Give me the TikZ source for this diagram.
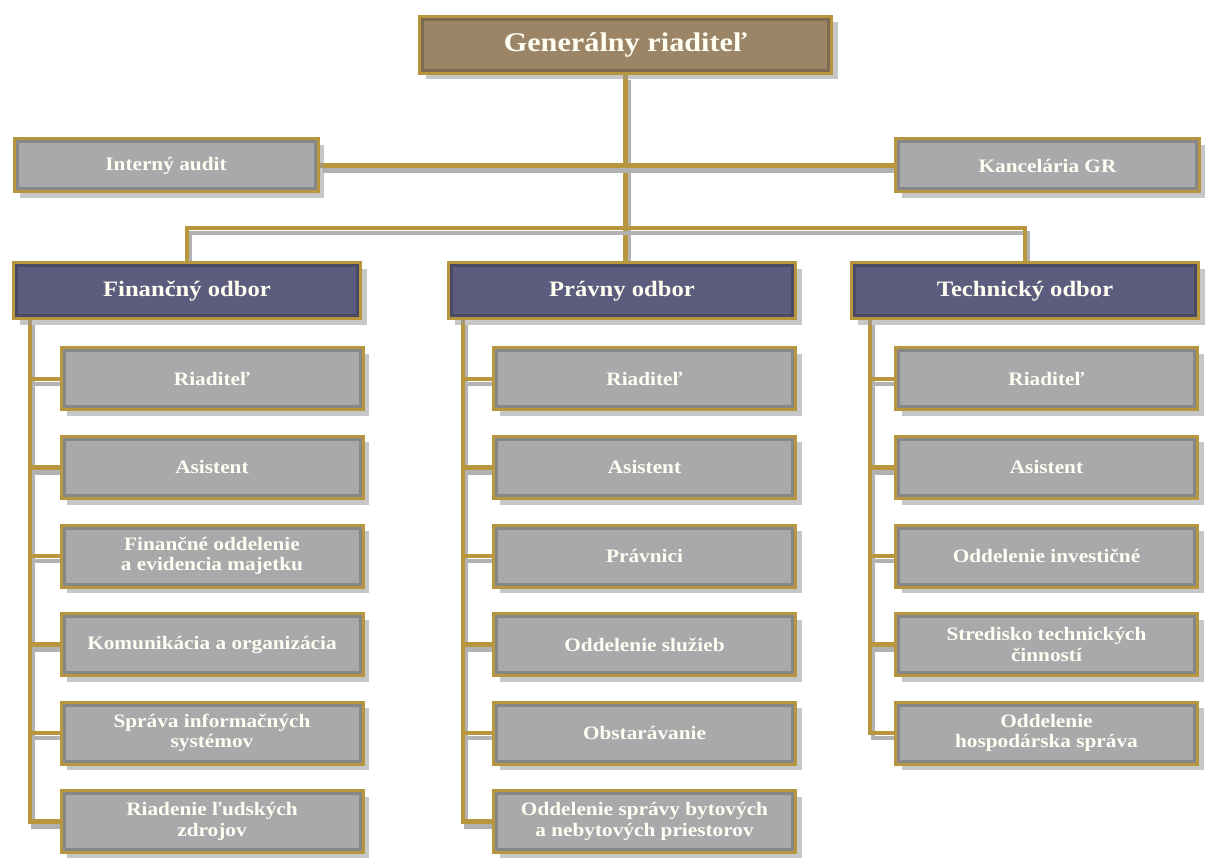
\documentclass[tikz,border=0pt]{standalone}
\usepackage{fontspec}
\setmainfont{Liberation Serif}[FakeStretch=1.12]
\usetikzlibrary{positioning,shadows,backgrounds}

\definecolor{gold}{HTML}{B8963E}
\definecolor{boxgray}{HTML}{A9A9AC}
\definecolor{deptblue}{HTML}{5C5C7E}
\definecolor{chiefbrown}{HTML}{9C8467}

\tikzset{
  box/.style={draw=gold, line width=3pt, text=white!95!yellow, align=center,
              font=\bfseries\fontsize{19}{20.5}\selectfont,
              drop shadow={shadow xshift=6pt, shadow yshift=-6pt, fill=black!40, opacity=.55},
              path picture={\draw[line width=9pt, #1!80!black]
                 (path picture bounding box.south west) rectangle (path picture bounding box.north east);}},
  chief/.style={box=chiefbrown, fill=chiefbrown, minimum width=412pt, minimum height=57pt,
                font=\bfseries\fontsize{27}{27}\selectfont},
  staff/.style={box=boxgray, fill=boxgray, minimum width=304pt, minimum height=53pt},
  dept/.style={box=deptblue, fill=deptblue, minimum width=347pt, minimum height=56pt,
               font=\bfseries\fontsize{22}{22}\selectfont},
  sub/.style={box=boxgray, fill=boxgray, minimum width=302pt, minimum height=62pt},
  link/.style={draw=gold, line width=4.5pt,
               preaction={draw=black!30, line width=4.5pt, transform canvas={shift={(3pt,-5pt)}}}}
}

\begin{document}
\begin{tikzpicture}[x=1pt, y=-1pt, node distance=23.5pt]
    \useasboundingbox (0,0) rectangle (1205,858);

    \node[chief] (gr)    at (625.5,45)  {Generálny riaditeľ};
    \node[staff] (audit) at (166,165.5) {Interný audit};
    \node[staff] (kanc)  at (1047.5,165.5) {Kancelária GR};

    \node[dept] (fin)  at (187,291)  {Finančný odbor};
    \node[dept] (prav) at (622,291)  {Právny odbor};
    \node[dept] (tech) at (1025,291) {Technický odbor};

    \node[sub] (f1) at (212,379)   {Riaditeľ};
    \node[sub] (f2) [below=of f1]  {Asistent};
    \node[sub] (f3) [below=of f2]  {Finančné oddelenie\\a evidencia majetku};
    \node[sub] (f4) [below=of f3]  {Komunikácia a organizácia};
    \node[sub] (f5) [below=of f4]  {Správa informačných\\systémov};
    \node[sub] (f6) [below=of f5]  {Riadenie ľudských\\zdrojov};

    \node[sub] (p1) at (644.5,379) {Riaditeľ};
    \node[sub] (p2) [below=of p1]  {Asistent};
    \node[sub] (p3) [below=of p2]  {Právnici};
    \node[sub] (p4) [below=of p3]  {Oddelenie služieb};
    \node[sub] (p5) [below=of p4]  {Obstarávanie};
    \node[sub] (p6) [below=of p5]  {Oddelenie správy bytových\\a nebytových priestorov};

    \node[sub] (t1) at (1046.5,379) {Riaditeľ};
    \node[sub] (t2) [below=of t1]   {Asistent};
    \node[sub] (t3) [below=of t2]   {Oddelenie investičné};
    \node[sub] (t4) [below=of t3]   {Stredisko technických\\činností};
    \node[sub] (t5) [below=of t4]   {Oddelenie\\hospodárska správa};

    \coordinate (bus)   at (625.5,228);
    \coordinate (finsp) at (30,320);
    \coordinate (prasp) at (463,320);
    \coordinate (tecsp) at (870,320);

    \begin{scope}[on background layer]
        \draw[link] (gr.south) -- (gr.south |- prav.north);
        \draw[link] (audit.east) -- (kanc.west);
        \draw[link] (fin.north) |- (bus) -| (tech.north);

        \draw[link] (finsp) |- (f6.west);
        \draw[link] (prasp) |- (p6.west);
        \draw[link] (tecsp) |- (t5.west);
        \foreach \n in {1,...,5}
            \draw[link] (finsp |- f\n.west) -- (f\n.west);
        \foreach \n in {1,...,5}
            \draw[link] (prasp |- p\n.west) -- (p\n.west);
        \foreach \n in {1,...,4}
            \draw[link] (tecsp |- t\n.west) -- (t\n.west);
    \end{scope}
\end{tikzpicture}
\end{document}
